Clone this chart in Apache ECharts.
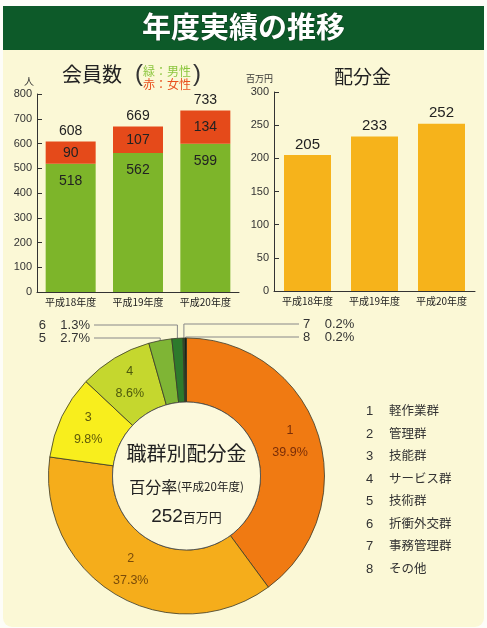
<!DOCTYPE html>
<html>
<head>
<meta charset="utf-8">
<script src="https://cdn.jsdelivr.net/npm/echarts@6/dist/echarts.min.js"></script>
<style>
  html, body { margin: 0; padding: 0; background: #fdfdf8; }
  #chart { width: 487px; height: 628px; }
</style>
</head>
<body>
<div id="chart"></div>
<script>
// data
var years = ['平成18年度', '平成19年度', '平成20年度'];
var male = [518, 562, 599];
var female = [90, 107, 134];
var members = [608, 669, 733];
var funds = [205, 233, 252];
var memberTicks = { min: 0, max: 800, step: 100 };
var fundTicks = { min: 0, max: 300, step: 50 };

var groups = ['軽作業群', '管理群', '技能群', 'サービス群', '技術群', '折衝外交群', '事務管理群', 'その他'];
var shares = [39.9, 37.3, 9.8, 8.6, 2.7, 1.3, 0.2, 0.2];

// styling
var FONT = '"Liberation Sans", "Noto Sans CJK JP", sans-serif';
var JP = '"Noto Sans CJK JP", sans-serif';
var PANEL = '#fbf8d6';
var sliceColors = ['#f07a12', '#f5ad1b', '#f8ee1d', '#c5d72e', '#7fb535', '#2d7a2c', '#184d1e', '#0b1a0d'];
var sliceText = ['#7a2e08', '#7a4c0a', '#5e5a08', '#4e5a0c'];
// outside label anchors for the thin slices (index -> layout)
var outerLabels = {
  4: { x: 90, y: 338, align: 'right', lx: 94 },
  5: { x: 90, y: 325, align: 'right', lx: 94 },
  6: { x: 303, y: 324, align: 'left', lx: 299 },
  7: { x: 303, y: 337, align: 'left', lx: 299 }
};

var chart = echarts.init(document.getElementById('chart'));

var pieData = groups.map(function (g, i) {
  var item = { name: g, value: shares[i], itemStyle: { color: sliceColors[i] } };
  if (outerLabels[i]) {
    item.label = { position: 'outside', color: '#333', fontSize: 13,
      formatter: (i + 1) + '    ' + shares[i].toFixed(1) + '%' };
    item.labelLine = { show: true, length: 4, length2: 4 };
  } else {
    item.label = { color: sliceText[i] };
  }
  return item;
});

// right-hand key
var legendTexts = [];
groups.forEach(function (g, i) {
  legendTexts.push({ type: 'text', left: 366, top: 405 + i * 22.5,
    style: { text: String(i + 1), font: '13px ' + FONT, fill: '#333' } });
  legendTexts.push({ type: 'text', left: 389, top: 404 + i * 22.5,
    style: { text: g, font: '12.5px ' + JP, fill: '#333' } });
});

var axisFont = { fontSize: 11, color: '#333', fontFamily: FONT };

chart.setOption({
  backgroundColor: '#fdfdf8',
  animation: false,
  graphic: [
    { type: 'rect', z: -10, shape: { x: 3, y: 6, width: 481, height: 621, r: [0, 0, 9, 9] }, style: { fill: PANEL } },
    { type: 'rect', z: -9, shape: { x: 3, y: 6, width: 481, height: 44 }, style: { fill: '#0d5a29' } },
    { type: 'text', left: 'center', top: 12,
      style: { text: '年度実績の推移', font: 'bold 29px ' + JP, fill: '#fff', stroke: '#0a3d1c', lineWidth: 1 } },
    { type: 'text', left: 24, top: 76, style: { text: '人', font: '10px ' + JP, fill: '#333' } },
    { type: 'text', left: 62, top: 64, style: { text: '会員数', font: '20px ' + JP, fill: '#222' } },
    { type: 'text', left: 135, top: 62, style: { text: '(', font: '24px ' + FONT, fill: '#333' } },
    { type: 'text', left: 193, top: 62, style: { text: ')', font: '24px ' + FONT, fill: '#333' } },
    { type: 'text', left: 143, top: 65, style: { text: '緑：男性', font: '12px ' + JP, fill: '#8cc63f' } },
    { type: 'text', left: 143, top: 78, style: { text: '赤：女性', font: '12px ' + JP, fill: '#e8501e' } },
    { type: 'text', left: 246, top: 74, style: { text: '百万円', font: '9px ' + JP, fill: '#333' } },
    { type: 'text', left: 334, top: 67, style: { text: '配分金', font: '19px ' + JP, fill: '#222' } },
    { type: 'circle', z: 5, shape: { cx: 186.5, cy: 476, r: 74 }, style: { fill: '#fcf9dc', stroke: '#444', lineWidth: 0.8 } },
    { type: 'text', z: 6, style: { x: 186.5, y: 453, text: '職群別配分金', align: 'center', verticalAlign: 'middle', font: '20px ' + JP, fill: '#222' } },
    { type: 'text', z: 6, style: { x: 186.5, y: 487, align: 'center', verticalAlign: 'middle',
      text: '{a|百分率}{b|(平成20年度)}', rich: { a: { font: '16px ' + JP, fill: '#222' }, b: { font: '11.5px ' + JP, fill: '#222' } } } },
    { type: 'text', z: 6, style: { x: 186.5, y: 517, align: 'center', verticalAlign: 'middle',
      text: '{a|252}{b|百万円}', rich: { a: { font: '19px ' + FONT, fill: '#222' }, b: { font: '13px ' + JP, fill: '#222' } } } }
  ].concat(legendTexts),
  grid: [
    { left: 37, top: 94, width: 202, height: 198 },
    { left: 274, top: 92, width: 201, height: 199 }
  ],
  xAxis: [0, 1].map(function (g) {
    return {
      type: 'category', gridIndex: g, data: years,
      axisLine: { lineStyle: { color: '#333' } },
      axisTick: { inside: true, length: 4, lineStyle: { color: '#333' } },
      axisLabel: { fontSize: 10, color: '#222', fontFamily: JP, margin: 5 }
    };
  }),
  yAxis: [memberTicks, fundTicks].map(function (t, g) {
    return {
      type: 'value', gridIndex: g, min: t.min, max: t.max, interval: t.step,
      axisLine: { show: true, lineStyle: { color: '#333' } },
      axisTick: { show: true, inside: true, length: 5, lineStyle: { color: '#333' } },
      axisLabel: Object.assign({ margin: 5 }, axisFont),
      splitLine: { show: false }
    };
  }),
  series: [
    { type: 'bar', stack: 'm', data: male, barWidth: 50, itemStyle: { color: '#7db52a' },
      label: { show: true, position: 'insideTop', distance: 10, fontSize: 14, color: '#222', fontFamily: FONT } },
    { type: 'bar', stack: 'm', data: female, barWidth: 50, itemStyle: { color: '#e54a1a' },
      label: { show: true, position: 'inside', fontSize: 14, color: '#222', fontFamily: FONT } },
    // zero-height cap that carries the total
    { type: 'bar', stack: 'm', data: members.map(function () { return 0; }), barWidth: 50,
      label: { show: true, position: 'top', distance: 3, fontSize: 14, color: '#222', fontFamily: FONT,
        formatter: function (p) { return members[p.dataIndex]; } } },
    { type: 'bar', xAxisIndex: 1, yAxisIndex: 1, data: funds, barWidth: 47, itemStyle: { color: '#f6b31b' },
      label: { show: true, position: 'top', distance: 3, fontSize: 15, color: '#222', fontFamily: FONT } },
    { type: 'pie', center: [186.5, 476], radius: [74, 138], startAngle: 90, clockwise: true,
      avoidLabelOverlap: false, z: 3,
      itemStyle: { borderColor: '#3a3a2a', borderWidth: 0.8 },
      label: { show: true, position: 'inside', fontSize: 12.5, fontFamily: FONT, lineHeight: 22,
        formatter: function (p) { return (p.dataIndex + 1) + '\n' + p.value.toFixed(1) + '%'; } },
      labelLine: { show: false, lineStyle: { color: '#888', width: 1 } },
      labelLayout: function (p) {
        var o = outerLabels[p.dataIndex];
        if (!o || !p.labelLinePoints) return {};
        var p0 = p.labelLinePoints[0];
        return { x: o.x, y: o.y, align: o.align, verticalAlign: 'middle',
          labelLinePoints: [p0, [p0[0], o.y], [o.lx, o.y]] };
      },
      data: pieData }
  ]
});
</script>
</body>
</html>
